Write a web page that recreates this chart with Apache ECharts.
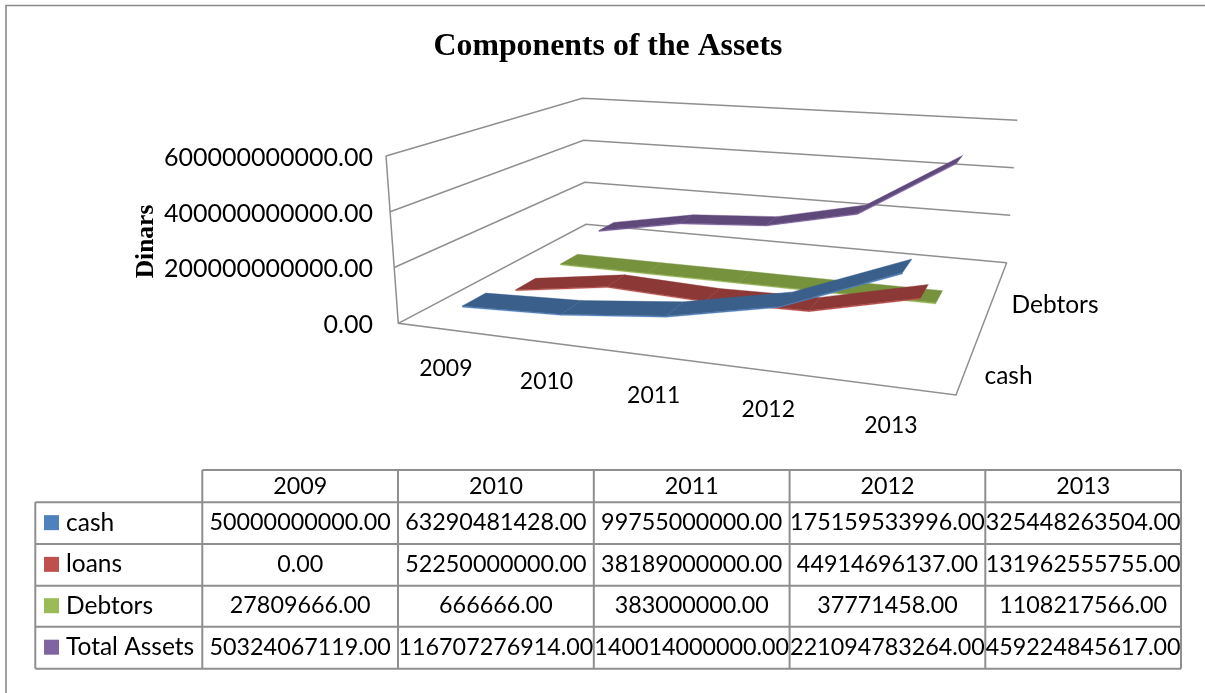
<!DOCTYPE html>
<html><head><meta charset="utf-8">
<script src="https://cdn.jsdelivr.net/npm/echarts@6/dist/echarts.min.js"></script>
<style>html,body{margin:0;padding:0;background:#fff}#c{width:1205px;height:693px}</style>
</head><body><div id="c"></div>
<script>
const years = ['2009','2010','2011','2012','2013'];
const cash = [50000000000,63290481428,99755000000,175159533996,325448263504];
const loans = [0,52250000000,38189000000,44914696137,131962555755];
const debtors = [27809666,666666,383000000,37771458,1108217566];
const totalAssets = [50324067119,116707276914,140014000000,221094783264,459224845617];
const seriesNames = ['cash','loans','Debtors','Total Assets'];
const seriesValues = [cash,loans,debtors,totalAssets];
const depthLabels = ['cash','','Debtors',''];
const yTicks = [0,200000000000,400000000000,600000000000];
const topColors = ['#3a5f8b','#8c3836','#76923c','#5f497a'];
const frontColors = ['#4f81bd','#c0504d','#9bbb59','#8064a2'];
const font = 'Lato, Carlito, sans-serif';

// perspective frame of the 3D box (u: category, w: depth, v: value)
const G = {left:386, top:158, width:620, height:167};
function quad(p){
  const [x0,y0]=p[0],[x1,y1]=p[1],[x2,y2]=p[2],[x3,y3]=p[3];
  const dx1=x1-x2,dx2=x3-x2,sx=x0-x1+x2-x3,dy1=y1-y2,dy2=y3-y2,sy=y0-y1+y2-y3;
  const den=dx1*dy2-dx2*dy1, g=(sx*dy2-dx2*sy)/den, h=(dx1*sy-sx*dy1)/den;
  const a=x1-x0+g*x1,b=x3-x0+h*x3,d=y1-y0+g*y1,e=y3-y0+h*y3;
  return (u,w)=>{const q=g*u+h*w+1;return [(a*u+b*w+x0)/q,(d*u+e*w+y0)/q];};
}
const floor = quad([[398.3,323.3],[956,395],[1006.7,262.7],[586,224.3]]);
const ceil = quad([[386,156],[968.6,199.7],[1017.3,120.3],[582.3,98.3]]);
function project(u,v,w){
  const a=floor(u,w),b=ceil(u,w);
  return [a[0]+(b[0]-a[0])*v,a[1]+(b[1]-a[1])*v];
}
function norm(api,i,val){
  const p=api.coord([i,val]);
  return [(p[0]-G.left)/G.width,(G.top+G.height-p[1])/G.height];
}
const RIBBON = 0.053, EDGE = 0.007;

function ribbon(j){
  return function(params,api){
    const i=params.dataIndex, vals=seriesValues[j];
    if(i>=vals.length-1) return {type:'group',children:[]};
    const a=norm(api,i,vals[i]), b=norm(api,i+1,vals[i+1]);
    const w=(j+0.5)/seriesNames.length;
    const f=w-RIBBON, k=w+RIBBON;
    const A0=project(a[0],a[1],f),B0=project(b[0],b[1],f),B1=project(b[0],b[1],k),A1=project(a[0],a[1],k);
    const A2=project(a[0],a[1]-EDGE,f),B2=project(b[0],b[1]-EDGE,f);
    return {type:'group',children:[
      {type:'polygon',shape:{points:[A0,B0,B2,A2]},style:{fill:frontColors[j],stroke:frontColors[j],lineWidth:0.3}},
      {type:'polygon',shape:{points:[A0,B0,B1,A1]},style:{fill:topColors[j],stroke:topColors[j],lineWidth:0.4}}
    ]};
  };
}
const lineStyle={stroke:'#8f8f8f',lineWidth:1.5,fill:null};
function wallItem(params,api){
  const p=api.coord([0,yTicks[params.dataIndex]]);
  const v=(G.top+G.height-p[1])/G.height;
  return {type:'polyline',shape:{points:[project(0,v,0),project(0,v,1),project(1,v,1)]},style:lineStyle};
}
function frameItem(){
  return {type:'group',children:[
    {type:'polyline',shape:{points:[project(0,1,0),project(0,0,0),project(1,0,0),project(1,0,1)]},style:lineStyle}
  ]};
}
function xLabelItem(params,api){
  const c=norm(api,params.dataIndex,0), p=project(c[0],0,0);
  return {type:'text',style:{text:years[params.dataIndex],x:p[0]-0.5,y:p[1]+39,align:'center',verticalAlign:'middle',font:'23px '+font,fill:'#000'}};
}
function depthLabelItem(params){
  const j=params.dataIndex, p=project(1,0,(j+0.5)/depthLabels.length);
  return {type:'text',style:{text:depthLabels[j],x:p[0]+20,y:p[1]+3,align:'left',verticalAlign:'middle',font:'24.5px '+font,fill:'#000'}};
}

// data table
const T = {xs:[35.3,202.3,398,593.8,789.6,985.3,1181], ys:[470,502.3,544,585.7,626.7,668.7], stroke:'#8f8f8f'};
const gfx=[];
const hl=(x1,x2,y)=>gfx.push({type:'line',silent:true,shape:{x1,y1:y,x2,y2:y},style:{stroke:T.stroke,lineWidth:2}});
const vl=(x,y1,y2)=>gfx.push({type:'line',silent:true,shape:{x1:x,y1,x2:x,y2},style:{stroke:T.stroke,lineWidth:2}});
hl(T.xs[1],T.xs[6],T.ys[0]);
for(let r=1;r<T.ys.length;r++) hl(T.xs[0],T.xs[6],T.ys[r]);
vl(T.xs[0],T.ys[1],T.ys[5]);
for(let c=1;c<T.xs.length;c++) vl(T.xs[c],T.ys[0],T.ys[5]);
const cell=(text,x,y,align,size)=>gfx.push({type:'text',silent:true,style:{text,x,y,align,verticalAlign:'middle',font:size+'px '+font,fill:'#000'}});
years.forEach((yr,c)=>cell(yr,(T.xs[c+1]+T.xs[c+2])/2,(T.ys[0]+T.ys[1])/2,'center',23.3));
seriesNames.forEach((n,r)=>{
  const cy=(T.ys[r+1]+T.ys[r+2])/2;
  gfx.push({type:'rect',silent:true,shape:{x:44,y:cy-8,width:15,height:15},style:{fill:frontColors[r]}});
  cell(n,66,cy-0.5,'left',24.5);
  seriesValues[r].forEach((v,c)=>cell(v.toFixed(2),(T.xs[c+1]+T.xs[c+2])/2,cy-0.5,'center',23.3));
});
// outer chart border
gfx.push({type:'polyline',silent:true,shape:{points:[[6,693],[6,5.5],[1205,5.5]]},style:{stroke:'#8a8a8a',lineWidth:1.6,fill:null}});

const idx=years.map((_,i)=>i);
const series=[
  {type:'custom',name:'walls',coordinateSystem:'cartesian2d',z:1,silent:true,clip:false,data:yTicks.map(t=>[0,t]),renderItem:wallItem},
  {type:'custom',name:'frame',coordinateSystem:'cartesian2d',z:1,silent:true,clip:false,data:[[0,0]],renderItem:frameItem},
  {type:'custom',name:'xlabels',coordinateSystem:'cartesian2d',z:6,silent:true,clip:false,data:idx.map(i=>[i,0]),renderItem:xLabelItem},
  {type:'custom',name:'depthlabels',coordinateSystem:'cartesian2d',z:6,silent:true,clip:false,data:depthLabels.map(()=>[0,0]),renderItem:depthLabelItem}
];
seriesNames.forEach((n,j)=>series.push({type:'custom',name:n,coordinateSystem:'cartesian2d',z:5-j,silent:true,clip:false,
  data:seriesValues[j].map((v,i)=>[i,v]),renderItem:ribbon(j)}));

const chart=echarts.init(document.getElementById('c'),null,{renderer:'canvas'});
chart.setOption({
  animation:false,backgroundColor:'#fff',
  title:{text:'Components of the Assets',left:603,top:26,textAlign:'center',textStyle:{fontFamily:'Liberation Serif',fontWeight:'bold',fontSize:31.8,color:'#000'}},
  grid:{left:G.left,top:G.top,width:G.width,height:G.height},
  xAxis:{type:'category',data:years,show:false},
  yAxis:{type:'value',min:0,max:yTicks[3],interval:yTicks[1],
    name:'Dinars',nameLocation:'middle',nameGap:227,nameRotate:90,nameMoveOverlap:false,
    nameTextStyle:{fontFamily:'Liberation Serif',fontWeight:'bold',fontSize:25.5,color:'#000'},
    axisLine:{show:false},axisTick:{show:false},splitLine:{show:false},
    axisLabel:{margin:13,formatter:v=>v.toFixed(2),fontFamily:font,fontSize:25,color:'#000'}},
  graphic:{elements:gfx},
  series
});
</script></body></html>
